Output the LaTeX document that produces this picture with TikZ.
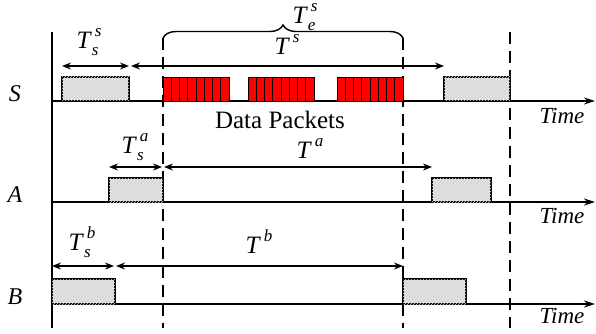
\documentclass[tikz,border=0pt]{standalone}
\usepackage{fontspec}
\setmainfont{Liberation Serif}
\usetikzlibrary{arrows.meta,decorations.pathreplacing,patterns}
\newcommand\Tsub[2]{\textit{T}\makebox[0pt][l]{\raisebox{-0.28em}{\fontsize{17}{17}\selectfont\itshape #1}}\raisebox{0.48em}{\fontsize{17}{17}\selectfont\itshape\,#2}}
\newcommand\Tsup[1]{\textit{T}\raisebox{0.48em}{\fontsize{17}{17}\selectfont\itshape\,#1}}
\tikzset{
  axis/.style={line width=1.7pt},
  taxis/.style={line width=1.7pt,-{Stealth[length=11pt,width=7pt]}},
  dline/.style={line width=2.8pt,dash pattern=on 12pt off 7pt},
  slot/.style={draw,line width=1.4pt,fill=gray!22,postaction={pattern=north east lines,pattern color=gray!35}},
  packet/.style={draw=black,line width=0.7pt,fill=red},
  dim/.style={line width=1.4pt,{Stealth[length=9pt,width=7pt]}-{Stealth[length=9pt,width=7pt]}},
  lbl/.style={font=\fontsize{24}{24}\selectfont\itshape,inner sep=0pt},
  tlbl/.style={font=\fontsize{25}{25}\selectfont,inner sep=0pt},
  timelbl/.style={font=\fontsize{23}{23}\selectfont\itshape,inner sep=0pt,anchor=base}
}
\begin{document}
\begin{tikzpicture}[x=1pt,y=-1pt]
\useasboundingbox (0,0) rectangle (596,334);
% vertical axis
\coordinate (vtop) at (52,32);
\coordinate (vbot) at (52,328);
\draw[axis] (vtop) -- (vbot);
% dashed lines
\foreach \n/\x/\y in {d1/163/38,d2/403/38,d3/510/32}{
  \coordinate (\n t) at (\x,\y);
  \coordinate (\n b) at (\x,328);
  \draw[dline] (\n t) -- (\n b);
}
% time axes
\foreach \n/\y in {S/101,A/202,B/304}{
  \coordinate (\n0) at (52,\y);
  \coordinate (\n1) at (595,\y);
  \draw[taxis] (\n0) -- (\n1);
}
\node[timelbl] (timeS) at (562,123) {Time};
\node[timelbl] (timeA) at (562,223) {Time};
\node[timelbl] (timeB) at (562,323) {Time};
% row labels
\node[lbl] (labS) at (15,94) {S};
\node[lbl] (labA) at (15,195) {A};
\node[lbl] (labB) at (15,297) {B};
% S row
\draw[slot] (62,77) rectangle (129,101);
\foreach \gx in {163,248,337}{
  \foreach \i in {0,...,7}{
    \draw[packet] (\gx+\i*8.25,77) rectangle ++(8.25,24);
  }
}
\draw[slot] (444,77) rectangle (510,101);
\node[font=\fontsize{25}{25}\selectfont,inner sep=0pt] (dp) at (280,120) {Data Packets};
\coordinate (s1) at (62,66);
\coordinate (s2) at (129,66);
\coordinate (s3) at (131,66);
\coordinate (s4) at (444,66);
\draw[dim] (s1) -- (s2);
\draw[dim] (s3) -- (s4);
\node[tlbl] (Tss) at (89,42) {\Tsub{s}{s}};
\node[tlbl] (Ts) at (287,44) {\Tsup{s}};
\draw[line width=1.4pt,decorate,decoration={brace,amplitude=13pt}] (163,38) -- (403,38);
\node[tlbl] (Tes) at (305,17) {\Tsub{e}{s}};
% A row
\draw[slot] (109,178) rectangle (163,202);
\draw[slot] (432,178) rectangle (491,202);
\coordinate (a1) at (109,167);
\coordinate (a2) at (162,167);
\coordinate (a3) at (164,167);
\coordinate (a4) at (432,167);
\draw[dim] (a1) -- (a2);
\draw[dim] (a3) -- (a4);
\node[tlbl] (Tsa) at (135,147) {\Tsub{s}{a}};
\node[tlbl] (Ta) at (310,148) {\Tsup{a}};
% B row
\draw[slot] (52,279) rectangle (115,304);
\draw[slot] (403,279) rectangle (466,304);
\coordinate (b1) at (52,266);
\coordinate (b2) at (114,266);
\coordinate (b3) at (116,266);
\coordinate (b4) at (403,266);
\draw[dim] (b1) -- (b2);
\draw[dim] (b3) -- (b4);
\node[tlbl] (Tsb) at (82,242) {\Tsub{s}{b}};
\node[tlbl] (Tb) at (259,242) {\Tsup{b}};
\end{tikzpicture}
\end{document}
